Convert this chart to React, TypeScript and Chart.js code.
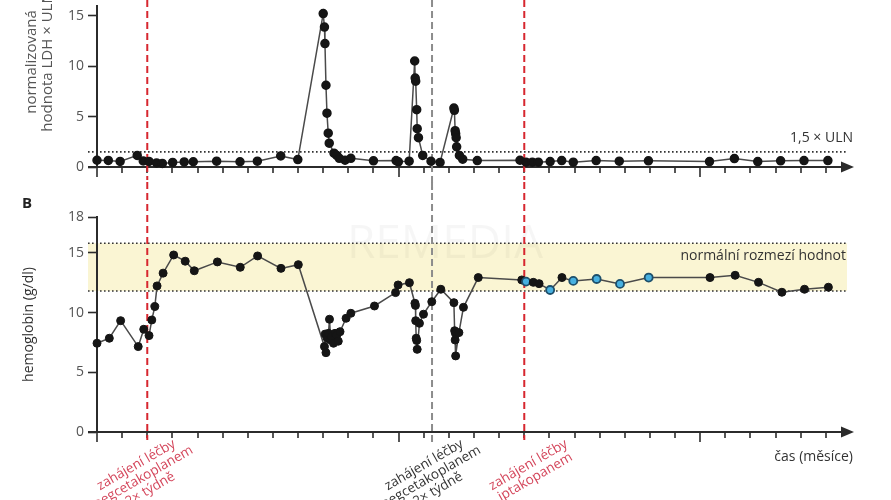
import React, { useEffect, useRef } from 'react';
import { Chart, registerables } from 'chart.js';
Chart.register(...registerables);

const FONT = '"Open Sans", "Noto Sans", sans-serif';

// ---- data (months since diagnosis) ----
const monthTicks = Array.from({ length: 30 }, (_, i) => i);

const ldhMonths = [0, 0.45, 0.92, 1.6, 1.84, 2.07, 2.37, 2.6, 3.01, 3.47, 3.83, 4.76, 5.69, 6.38, 7.31, 7.99, 9.0, 9.05, 9.07, 9.11, 9.15, 9.2, 9.24, 9.43, 9.54, 9.64, 9.87, 10.1, 11.0, 11.9, 11.99, 12.42, 12.64, 12.66, 12.68, 12.72, 12.74, 12.79, 12.96, 13.29, 13.65, 14.2, 14.22, 14.25, 14.27, 14.29, 14.31, 14.42, 14.55, 15.13, 16.83, 17.07, 17.32, 17.56, 18.03, 18.49, 18.95, 19.86, 20.78, 21.94, 24.37, 25.36, 26.29, 27.2, 28.13, 29.08];
const ldhValues = [0.67, 0.65, 0.55, 1.15, 0.6, 0.55, 0.4, 0.35, 0.45, 0.5, 0.52, 0.58, 0.52, 0.58, 1.1, 0.74, 15.2, 13.86, 12.23, 8.1, 5.33, 3.35, 2.36, 1.37, 1.15, 0.86, 0.67, 0.86, 0.61, 0.64, 0.51, 0.58, 10.5, 8.81, 8.5, 5.68, 3.8, 2.9, 1.15, 0.57, 0.45, 5.84, 5.62, 3.6, 3.3, 2.9, 2.0, 1.15, 0.77, 0.64, 0.67, 0.48, 0.48, 0.48, 0.54, 0.64, 0.48, 0.64, 0.58, 0.61, 0.54, 0.83, 0.54, 0.61, 0.64, 0.64];

const hbMonths = [0, 0.49, 0.94, 1.64, 1.86, 2.07, 2.18, 2.3, 2.39, 2.63, 3.05, 3.51, 3.87, 4.79, 5.7, 6.39, 7.32, 8.01, 9.05, 9.08, 9.11, 9.15, 9.21, 9.25, 9.3, 9.34, 9.41, 9.47, 9.54, 9.6, 9.67, 9.91, 10.1, 11.04, 11.88, 11.98, 12.43, 12.65, 12.67, 12.68, 12.7, 12.72, 12.74, 12.83, 12.99, 13.32, 13.68, 14.2, 14.23, 14.25, 14.26, 14.27, 14.4, 14.58, 15.17, 16.9, 17.07, 17.36, 17.59, 18.03, 18.5, 18.95, 19.88, 20.81, 21.95, 24.39, 25.39, 26.32, 27.25, 28.15, 29.1];
const hbValues = [7.43, 7.85, 9.32, 7.15, 8.6, 8.07, 9.38, 10.5, 12.23, 13.3, 14.82, 14.3, 13.5, 14.24, 13.79, 14.74, 13.7, 14.01, 7.15, 8.2, 6.64, 7.9, 8.26, 9.44, 7.7, 7.98, 7.43, 8.26, 8.1, 7.6, 8.4, 9.52, 9.94, 10.55, 11.67, 12.31, 12.5, 10.78, 10.6, 9.32, 7.85, 7.66, 6.92, 9.1, 9.86, 10.91, 11.95, 10.83, 8.48, 7.7, 8.26, 6.37, 8.32, 10.44, 12.93, 12.73, 12.59, 12.53, 12.42, 11.89, 12.93, 12.65, 12.81, 12.4, 12.93, 12.93, 13.12, 12.53, 11.7, 11.95, 12.12];
const hbBlueMonths = [17.07, 18.03, 18.95, 19.88, 20.81, 21.95];

const ldhTicks = [0, 5, 10, 15];
const hbTicks = [0, 5, 10, 15, 18];
const ldhLimit = 1.5;
const hbNormalLow = 11.8;
const hbNormalHigh = 15.8;

const eventMonths = [2, 13.33, 17];
const eventLabels = [
  ['zahájení léčby', 'pegcetakoplanem', '2× týdně'],
  ['zahájení léčby', 'pegcetakoplanem', '2× týdně'],
  ['zahájení léčby', 'iptakopanem'],
];
const eventKinds = ['red', 'gray', 'red'];

// ---- helpers ----
const AXIS = '#2b2b2b';

function drawXAxis(chart: any) {
  const { ctx } = chart;
  const xs = chart.scales.x;
  const y0 = chart.scales.y.getPixelForValue(0);
  ctx.save();
  ctx.strokeStyle = AXIS;
  ctx.lineWidth = 2;
  ctx.beginPath();
  ctx.moveTo(88, y0);
  ctx.lineTo(845, y0);
  ctx.stroke();
  ctx.fillStyle = AXIS;
  ctx.beginPath();
  ctx.moveTo(854, y0);
  ctx.lineTo(841, y0 - 5.5);
  ctx.lineTo(841, y0 + 5.5);
  ctx.closePath();
  ctx.fill();
  ctx.lineWidth = 1.6;
  monthTicks.forEach((m) => {
    const px = Math.round(xs.getPixelForValue(m));
    const len = m % 12 === 0 ? 10 : 6;
    ctx.beginPath();
    ctx.moveTo(px, y0);
    ctx.lineTo(px, y0 + len);
    ctx.stroke();
  });
  ctx.restore();
}

function drawEventLines(chart: any, yTop: number, yBottom: number, grayBottom: number) {
  const { ctx } = chart;
  const xs = chart.scales.x;
  ctx.save();
  eventMonths.forEach((m, i) => {
    const px = xs.getPixelForValue(m);
    const red = eventKinds[i] === 'red';
    ctx.strokeStyle = red ? '#d7262f' : '#8c8c8c';
    ctx.lineWidth = 2;
    ctx.setLineDash([7, 4]);
    ctx.beginPath();
    ctx.moveTo(px, yTop);
    ctx.lineTo(px, red ? yBottom : grayBottom);
    ctx.stroke();
  });
  ctx.restore();
}

function dottedLine(ctx: any, y: number) {
  ctx.save();
  ctx.strokeStyle = '#333';
  ctx.lineWidth = 1.6;
  ctx.setLineDash([1.6, 2.4]);
  ctx.beginPath();
  ctx.moveTo(88, y);
  ctx.lineTo(847, y);
  ctx.stroke();
  ctx.restore();
}

const yAxisBase = (ticks: number[], min: number, max: number) => ({
  type: 'linear',
  position: 'left',
  min,
  max,
  afterBuildTicks: (s: any) => {
    s.ticks = ticks.map((v) => ({ value: v }));
  },
  afterFit: (s: any) => {
    s.width = 97;
    s.paddingTop = 0;
    s.paddingBottom = 0;
  },
  border: { display: true, color: AXIS, width: 2 },
  grid: { drawOnChartArea: false, drawTicks: true, tickLength: 9, tickColor: AXIS, tickWidth: 1.6 },
  ticks: { color: '#555', font: { family: FONT, size: 14 }, padding: 4 },
});

const xAxis = { type: 'linear', min: 0, max: 30, display: false };

export default function App() {
  const topRef = useRef<HTMLCanvasElement>(null);
  const botRef = useRef<HTMLCanvasElement>(null);

  useEffect(() => {
    const topPlugin = {
      id: 'topDecor',
      beforeDraw(chart: any) {
        dottedLine(chart.ctx, chart.scales.y.getPixelForValue(ldhLimit));
      },
      beforeDatasetsDraw(chart: any) {
        drawXAxis(chart);
        drawEventLines(chart, 0, 180, 190);
      },
      afterDraw(chart: any) {
        const { ctx } = chart;
        ctx.save();
        ctx.fillStyle = '#333';
        ctx.font = `14px ${FONT}`;
        ctx.textAlign = 'right';
        ctx.textBaseline = 'middle';
        ctx.fillText('1,5 × ULN', 853, 138);
        ctx.textAlign = 'center';
        ctx.fillStyle = '#555';
        ctx.font = `15px ${FONT}`;
        ctx.translate(32, 62);
        ctx.rotate(-Math.PI / 2);
        ctx.fillText('normalizovaná', 0, 0);
        ctx.fillText('hodnota LDH × ULN', 0, 16);
        ctx.restore();
      },
    };

    const botPlugin = {
      id: 'botDecor',
      beforeDraw(chart: any) {
        const { ctx } = chart;
        const ys = chart.scales.y;
        const yH = ys.getPixelForValue(hbNormalHigh);
        const yL = ys.getPixelForValue(hbNormalLow);
        ctx.save();
        ctx.fillStyle = '#faf5d3';
        ctx.fillRect(88, yH, 847 - 88, yL - yH);
        ctx.fillStyle = 'rgba(0,0,0,0.035)';
        ctx.font = `46px ${FONT}`;
        ctx.textAlign = 'center';
        ctx.textBaseline = 'middle';
        ctx.fillText('REMEDIA', 445, 65);
        ctx.restore();
        dottedLine(ctx, yH);
        dottedLine(ctx, yL);
      },
      beforeDatasetsDraw(chart: any) {
        drawXAxis(chart);
        drawEventLines(chart, 2, 260, 262);
      },
      afterDraw(chart: any) {
        const { ctx } = chart;
        const xs = chart.scales.x;
        ctx.save();
        ctx.fillStyle = '#222';
        ctx.font = `bold 15px ${FONT}`;
        ctx.textAlign = 'left';
        ctx.textBaseline = 'middle';
        ctx.fillText('B', 22, 24);
        ctx.fillStyle = '#333';
        ctx.font = `14px ${FONT}`;
        ctx.textAlign = 'right';
        ctx.fillText('normální rozmezí hodnot', 846, 76);
        ctx.fillText('čas (měsíce)', 853, 277);
        const dx = [-11, -8, 4];
        eventMonths.forEach((m, i) => {
          const cx = xs.getPixelForValue(m) + dx[i];
          ctx.save();
          ctx.translate(cx, 285);
          ctx.rotate(-Math.PI / 6);
          ctx.textAlign = 'center';
          ctx.fillStyle = eventKinds[i] === 'red' ? '#d4465b' : '#333';
          ctx.font = `13.5px ${FONT}`;
          eventLabels[i].forEach((line, j) => ctx.fillText(line, 0, j * 14));
          ctx.restore();
        });
        ctx.restore();
      },
    };

    const lineStyle = {
      borderColor: '#4a4a4a',
      borderWidth: 1.5,
      pointRadius: 4,
      pointHoverRadius: 4,
      tension: 0,
      clip: false,
    };

    const top = new Chart(topRef.current!, {
      type: 'line',
      data: {
        datasets: [
          {
            label: 'LDH',
            data: ldhMonths.map((m, i) => ({ x: m, y: ldhValues[i] })),
            ...lineStyle,
            pointBackgroundColor: '#151515',
            pointBorderColor: '#151515',
          },
        ],
      },
      options: {
        responsive: false,
        animation: false,
        layout: { padding: { left: 0, right: 40, top: 0, bottom: 23 } },
        plugins: { legend: { display: false }, tooltip: { enabled: false } },
        scales: { x: xAxis, y: yAxisBase(ldhTicks, 0, 16) },
      } as any,
      plugins: [topPlugin],
    });

    const isBlue = (i: number) => hbBlueMonths.includes(hbMonths[i]);
    const bot = new Chart(botRef.current!, {
      type: 'line',
      data: {
        datasets: [
          {
            label: 'hemoglobin',
            data: hbMonths.map((m, i) => ({ x: m, y: hbValues[i] })),
            ...lineStyle,
            pointBackgroundColor: (c: any) => (isBlue(c.dataIndex) ? '#47b0e0' : '#151515'),
            pointBorderColor: (c: any) => (isBlue(c.dataIndex) ? '#1d4f6b' : '#151515'),
            pointBorderWidth: (c: any) => (isBlue(c.dataIndex) ? 1.8 : 1),
          },
        ],
      },
      options: {
        responsive: false,
        animation: false,
        layout: { padding: { left: 0, right: 40, top: 37, bottom: 68 } },
        plugins: { legend: { display: false }, tooltip: { enabled: false } },
        scales: {
          x: xAxis,
          y: {
            ...yAxisBase(hbTicks, 0, 18),
            title: {
              display: true,
              text: 'hemoglobin (g/dl)',
              color: '#333',
              font: { family: FONT, size: 14 },
              padding: { top: 21, bottom: 0 },
            },
          },
        },
      } as any,
      plugins: [botPlugin],
    });

    return () => {
      top.destroy();
      bot.destroy();
    };
  }, []);

  return (
    <div style={{ position: 'fixed', left: 0, top: 0, width: 891, height: 500, background: '#fff', overflow: 'hidden' }}>
      <canvas ref={topRef} width={891} height={190} style={{ position: 'absolute', left: 0, top: 0 }} />
      <canvas ref={botRef} width={891} height={320} style={{ position: 'absolute', left: 0, top: 180 }} />
    </div>
  );
}
